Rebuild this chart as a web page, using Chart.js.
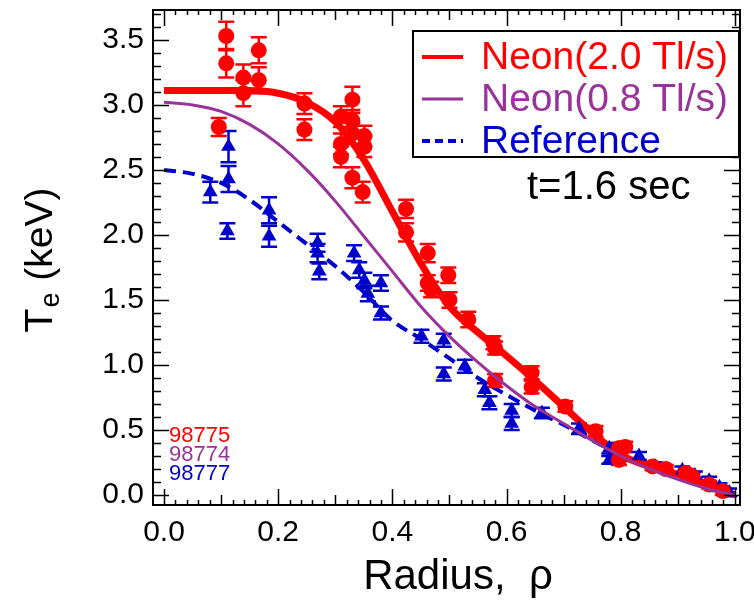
<!DOCTYPE html>
<html><head><meta charset="utf-8">
<script src="https://cdn.jsdelivr.net/npm/chart.js@4.4.1/dist/chart.umd.min.js"></script>
<style>html,body{margin:0;padding:0;background:#fff;overflow:hidden}#wrap{width:754px;height:602px;position:relative}</style>
</head><body><div id="wrap"><canvas id="c" width="754" height="602"></canvas></div>
<script>
// ---- data ----
const seriesNames = ['Neon(2.0 Tl/s)', 'Neon(0.8 Tl/s)', 'Reference'];
const shotLabels = ['98775', '98774', '98777'];
const timeLabel = 't=1.6 sec';
const xTickValues = [0.0, 0.2, 0.4, 0.6, 0.8, 1.0];
const yTickValues = [0.0, 0.5, 1.0, 1.5, 2.0, 2.5, 3.0, 3.5];

const fitRho = [0, 0.05, 0.1, 0.15, 0.2, 0.25, 0.3, 0.35, 0.4, 0.45, 0.5, 0.55, 0.6, 0.65, 0.7, 0.75, 0.8, 0.85, 0.9, 0.95, 1.0];
const neon20Fit = [3.11, 3.11, 3.11, 3.11, 3.09, 3.02, 2.87, 2.58, 2.18, 1.78, 1.45, 1.25, 1.07, 0.88, 0.68, 0.48, 0.31, 0.22, 0.16, 0.08, 0.0];
const neon08Fit = [3.02, 3.00, 2.95, 2.85, 2.70, 2.50, 2.26, 1.99, 1.72, 1.45, 1.22, 1.02, 0.84, 0.68, 0.55, 0.42, 0.30, 0.20, 0.12, 0.05, 0.0];
const referenceFit = [2.50, 2.47, 2.40, 2.27, 2.10, 1.93, 1.76, 1.56, 1.34, 1.20, 1.05, 0.90, 0.77, 0.65, 0.54, 0.42, 0.31, 0.21, 0.13, 0.06, 0.0];

const neon20Rho = [0.096, 0.109, 0.109, 0.139, 0.139, 0.166, 0.166, 0.246, 0.246, 0.31, 0.31, 0.31, 0.33, 0.33, 0.33, 0.33, 0.351, 0.351, 0.348, 0.424, 0.424, 0.462, 0.462, 0.468, 0.498, 0.5, 0.533, 0.577, 0.58, 0.58, 0.644, 0.644, 0.703, 0.756, 0.797, 0.808, 0.797, 0.856, 0.879, 0.914, 0.926, 0.955, 0.979];
const neon20Te  = [2.83, 3.53, 3.32, 3.21, 3.09, 3.42, 3.19, 3.01, 2.81, 2.91, 2.70, 2.60, 3.04, 2.88, 2.78, 2.44, 2.76, 2.68, 2.33, 2.20, 2.02, 1.86, 1.63, 1.58, 1.69, 1.50, 1.35, 1.17, 1.13, 0.88, 0.94, 0.83, 0.68, 0.49, 0.36, 0.37, 0.27, 0.22, 0.20, 0.17, 0.14, 0.08, 0.03];
const neon20Err = [0.07, 0.11, 0.11, 0.10, 0.10, 0.10, 0.10, 0.08, 0.08, 0.08, 0.08, 0.08, 0.10, 0.08, 0.08, 0.08, 0.08, 0.08, 0.08, 0.07, 0.07, 0.07, 0.06, 0.06, 0.06, 0.06, 0.06, 0.05, 0.05, 0.05, 0.05, 0.05, 0.04, 0.04, 0.04, 0.04, 0.04, 0.03, 0.03, 0.03, 0.03, 0.03, 0.03];

const refRho = [0.081, 0.113, 0.113, 0.111, 0.184, 0.184, 0.269, 0.269, 0.272, 0.333, 0.342, 0.351, 0.357, 0.38, 0.38, 0.451, 0.49, 0.49, 0.527, 0.562, 0.57, 0.609, 0.609, 0.662, 0.727, 0.78, 0.78, 0.832, 0.86, 0.908, 0.93, 0.955, 0.973, 0.99];
const refTe  = [2.33, 2.68, 2.43, 2.03, 2.19, 1.99, 1.94, 1.86, 1.72, 1.86, 1.73, 1.65, 1.55, 1.63, 1.40, 1.22, 1.19, 0.93, 0.99, 0.81, 0.71, 0.65, 0.55, 0.63, 0.51, 0.36, 0.27, 0.30, 0.22, 0.19, 0.15, 0.11, 0.06, 0.02];
const refErr = [0.08, 0.12, 0.10, 0.06, 0.10, 0.08, 0.07, 0.07, 0.06, 0.06, 0.06, 0.06, 0.06, 0.06, 0.05, 0.05, 0.05, 0.05, 0.05, 0.05, 0.05, 0.05, 0.05, 0.04, 0.04, 0.04, 0.03, 0.03, 0.03, 0.03, 0.03, 0.03, 0.03, 0.03];

// ---- styles ----
const RED = '#ff0000', PURPLE = '#993399', BLUE = '#0000cc';
const FONT = '"Liberation Sans", Arial, Helvetica, sans-serif';

const pts = (xs, ys) => xs.map((x, i) => ({x: x, y: ys[i]}));

const errorBarPlugin = {
  id: 'errorBars',
  beforeDatasetsDraw(chart) {
    const ctx = chart.ctx, xs = chart.scales.x, ys = chart.scales.y;
    chart.data.datasets.forEach(ds => {
      if (!ds.errorBars) return;
      ctx.save();
      ctx.strokeStyle = ds.backgroundColor;
      ctx.lineWidth = 2.5;
      ds.data.forEach((p, i) => {
        const e = ds.errorBars[i];
        const px = xs.getPixelForValue(p.x);
        const y1 = ys.getPixelForValue(p.y + e), y2 = ys.getPixelForValue(p.y - e);
        ctx.beginPath();
        ctx.moveTo(px, y1); ctx.lineTo(px, y2);
        ctx.moveTo(px - 8, y1); ctx.lineTo(px + 8, y1);
        ctx.moveTo(px - 8, y2); ctx.lineTo(px + 8, y2);
        ctx.stroke();
      });
      ctx.restore();
    });
  }
};

const decorPlugin = {
  id: 'decor',
  afterDraw(chart) {
    const ctx = chart.ctx, xs = chart.scales.x, ys = chart.scales.y;
    const {left, right, top, bottom} = chart.chartArea;
    ctx.save();
    // frame
    ctx.strokeStyle = '#000';
    ctx.lineWidth = 2;
    ctx.strokeRect(left, top, right - left, bottom - top);
    // inward ticks
    ctx.lineWidth = 1.5;
    ctx.beginPath();
    for (let i = 0; i <= 50; i++) {
      const v = i / 50;
      const px = Math.round(xs.getPixelForValue(v)) + 0.5;
      const len = i % 10 === 0 ? 16 : (i % 5 === 0 ? 10 : 5);
      ctx.moveTo(px, bottom); ctx.lineTo(px, bottom - len);
      ctx.moveTo(px, top); ctx.lineTo(px, top + len);
    }
    for (let i = 0; i <= 37; i++) {
      const v = i / 10;
      const py = Math.round(ys.getPixelForValue(v)) + 0.5;
      const len = i % 5 === 0 ? 16 : 8;
      ctx.moveTo(left, py); ctx.lineTo(left + len, py);
      ctx.moveTo(right, py); ctx.lineTo(right - len, py);
    }
    ctx.stroke();

    // legend box
    const lx = 413, ly = 31, lw = 326, lh = 126;
    ctx.fillStyle = '#fff';
    ctx.fillRect(lx, ly, lw, lh);
    ctx.lineWidth = 2;
    ctx.strokeStyle = '#000';
    ctx.strokeRect(lx, ly, lw, lh);
    const legendItems = [
      {name: seriesNames[0], color: RED, width: 4, dash: []},
      {name: seriesNames[1], color: PURPLE, width: 3, dash: []},
      {name: seriesNames[2], color: BLUE, width: 4, dash: [8, 5]}
    ];
    ctx.font = '39px ' + FONT;
    ctx.textBaseline = 'middle';
    ctx.textAlign = 'left';
    legendItems.forEach((it, k) => {
      const yy = 57 + k * 42;
      ctx.strokeStyle = it.color;
      ctx.lineWidth = it.width;
      ctx.setLineDash(it.dash);
      ctx.beginPath(); ctx.moveTo(422, yy); ctx.lineTo(463, yy); ctx.stroke();
      ctx.setLineDash([]);
      ctx.fillStyle = it.color;
      ctx.fillText(it.name, 481, yy + 1);
    });

    // time annotation
    ctx.fillStyle = '#000';
    ctx.font = '40px ' + FONT;
    ctx.fillText(timeLabel, 527, 188);

    // shot numbers
    ctx.font = '22px ' + FONT;
    [RED, PURPLE, BLUE].forEach((c, k) => {
      ctx.fillStyle = c;
      ctx.fillText(shotLabels[k], 169, 436 + k * 19);
    });

    // x axis title
    ctx.fillStyle = '#000';
    ctx.font = '42px ' + FONT;
    ctx.textAlign = 'center';
    ctx.fillText('Radius,  \u03C1', 458, 577);

    // y axis title: T_e (keV)
    ctx.save();
    ctx.translate(38, 261);
    ctx.rotate(-Math.PI / 2);
    ctx.textAlign = 'left';
    ctx.textBaseline = 'alphabetic';
    const big = '39px ' + FONT, small = '27px ' + FONT;
    ctx.font = big; const wT = ctx.measureText('T').width;
    ctx.font = small; const wE = ctx.measureText('e').width;
    ctx.font = big; const wK = ctx.measureText(' (keV)').width;
    let x0 = -(wT + wE + wK) / 2;
    const base = 14;
    ctx.font = big; ctx.fillText('T', x0, base);
    ctx.font = small; ctx.fillText('e', x0 + wT + 1, base + 7);
    ctx.font = big; ctx.fillText(' (keV)', x0 + wT + wE + 2, base);
    ctx.restore();

    ctx.restore();
  }
};

new Chart(document.getElementById('c'), {
  type: 'scatter',
  data: {
    datasets: [
      {label: seriesNames[0] + ' data', data: pts(neon20Rho, neon20Te), errorBars: neon20Err,
       backgroundColor: RED, borderColor: RED, pointStyle: 'circle', pointRadius: 8, borderWidth: 0, order: 1},
      {label: seriesNames[2] + ' data', data: pts(refRho, refTe), errorBars: refErr,
       backgroundColor: BLUE, borderColor: BLUE, pointStyle: 'triangle', pointRadius: 8.5, borderWidth: 0, order: 1},
      {label: seriesNames[0], data: pts(fitRho, neon20Fit), showLine: true, pointRadius: 0,
       borderColor: RED, backgroundColor: RED, borderWidth: 7, cubicInterpolationMode: 'monotone', order: 2},
      {label: seriesNames[1], data: pts(fitRho, neon08Fit), showLine: true, pointRadius: 0,
       borderColor: PURPLE, backgroundColor: PURPLE, borderWidth: 3, cubicInterpolationMode: 'monotone', order: 0},
      {label: seriesNames[2], data: pts(fitRho, referenceFit), showLine: true, pointRadius: 0,
       borderColor: BLUE, backgroundColor: BLUE, borderWidth: 4, borderDash: [12, 7], cubicInterpolationMode: 'monotone', order: 2}
    ]
  },
  options: {
    responsive: false, animation: false, devicePixelRatio: 1,
    layout: {padding: {top: 10, right: 14, bottom: 0, left: 0}},
    plugins: {legend: {display: false}, tooltip: {enabled: false}},
    scales: {
      x: {
        type: 'linear', min: -0.0193, max: 1.009,
        afterBuildTicks: s => { s.ticks = xTickValues.map(v => ({value: v})); },
        afterFit: s => { s.height = 97; s.paddingLeft = 0; s.paddingRight = 0; },
        grid: {display: false, drawTicks: false}, border: {display: false},
        ticks: {color: '#000', font: {size: 30, family: FONT}, padding: 10, maxRotation: 0,
                callback: v => Number(v).toFixed(1)}
      },
      y: {
        type: 'linear', min: -0.077, max: 3.73,
        afterBuildTicks: s => { s.ticks = yTickValues.map(v => ({value: v})); },
        afterFit: s => { s.width = 153; s.paddingTop = 0; s.paddingBottom = 0; },
        grid: {display: false, drawTicks: false}, border: {display: false},
        ticks: {color: '#000', font: {size: 30, family: FONT}, padding: 9,
                callback: v => Number(v).toFixed(1)}
      }
    }
  },
  plugins: [errorBarPlugin, decorPlugin]
});
</script>
</body></html>
